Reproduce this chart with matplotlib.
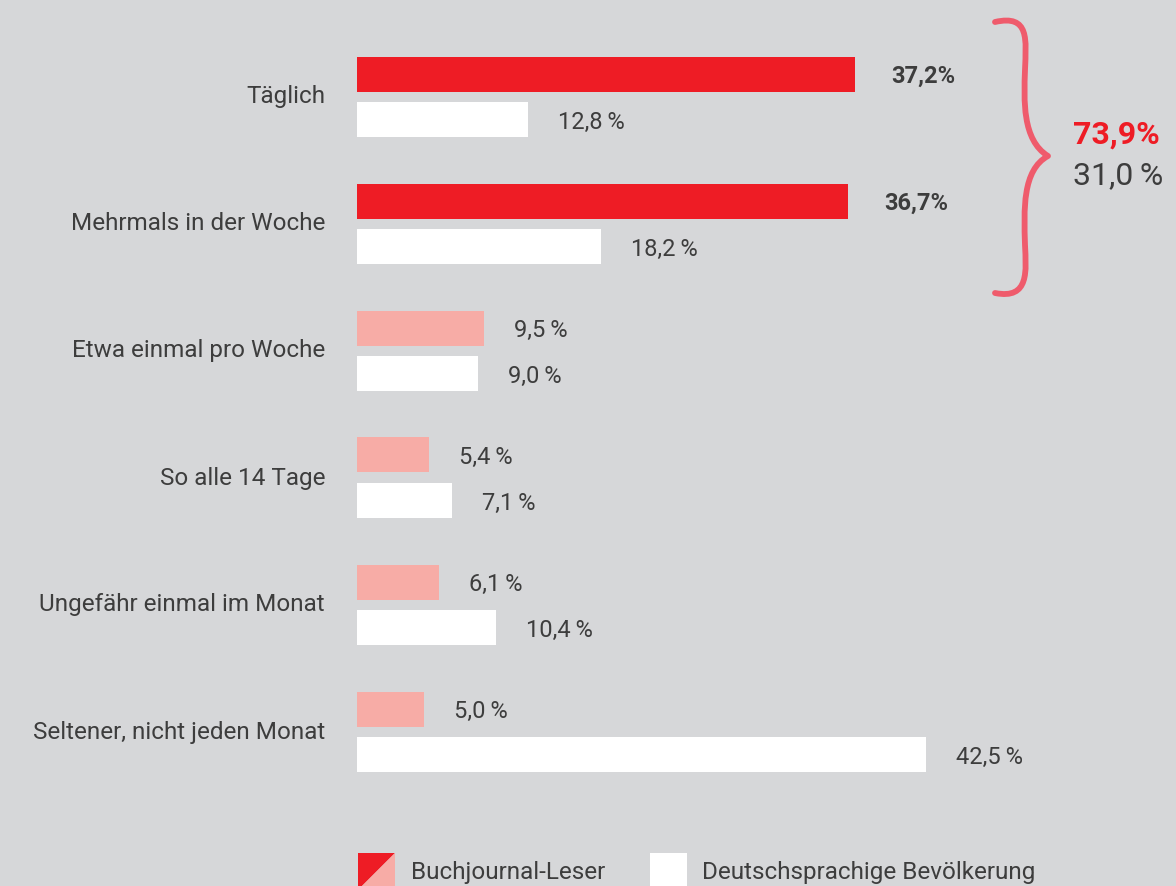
import numpy as np
import matplotlib
matplotlib.use("Agg")
import matplotlib.pyplot as plt
from matplotlib.patches import Polygon, Rectangle, PathPatch
from matplotlib.path import Path

plt.rcParams["font.family"] = ["Roboto", "DejaVu Sans"]

# data
kategorien = ["Täglich", "Mehrmals in der Woche", "Etwa einmal pro Woche",
              "So alle 14 Tage", "Ungefähr einmal im Monat",
              "Seltener, nicht jeden Monat"]
leser = [37.2, 36.7, 9.5, 5.4, 6.1, 5.0]
bevoelkerung = [12.8, 18.2, 9.0, 7.1, 10.4, 42.5]
summe_leser = 73.9
summe_bev = 31.0
legende = ["Buchjournal-Leser", "Deutschsprachige Bevölkerung"]

BG = "#d6d7d9"
RED = "#ee1c25"
PINK = "#f7aca6"
TXT = "#3d3d3d"
BRACE = "#ef5b6c"

W, H = 1176, 886
fig = plt.figure(figsize=(W / 100, H / 100), dpi=100, facecolor=BG)

# scale: x=0 at px 357, 13.39 px per percent; groups 127 px apart, first at px 96
PX_X = 13.39
X0 = 357
PX_G = 127
G0 = 96
ax = fig.add_axes([0, 0, 1, 1])
ax.set_facecolor(BG)
ax.set_xlim(-X0 / PX_X, (W - X0) / PX_X)
ax.set_ylim((H - G0) / PX_G, -G0 / PX_G)
ax.axis("off")

y = np.arange(len(kategorien))
bh = 35 / PX_G
off_r = -22 / PX_G
off_w = 23.5 / PX_G
farben = [RED if i < 2 else PINK for i in range(len(leser))]

ax.barh(y + off_r, leser, height=bh, color=farben, edgecolor="none")
ax.barh(y + off_w, bevoelkerung, height=bh, color="white", edgecolor="none")


def fmt(v, space=True):
    return f"{v:.1f}".replace(".", ",") + ("\u2009%" if space else "%")


gap = 30 / PX_X
dy = 2.5 / PX_G  # labels sit a touch below bar centre
for i, (a, b) in enumerate(zip(leser, bevoelkerung)):
    bold = i < 2
    ax.text(a + (36 / PX_X if bold else gap), y[i] + off_r + dy, fmt(a, not bold),
            va="center", ha="left", fontsize=17, color=TXT,
            fontweight="bold" if bold else "normal")
    ax.text(b + gap, y[i] + off_w + dy, fmt(b), va="center", ha="left",
            fontsize=17, color=TXT)
    ax.text(-32 / PX_X, y[i] + 1 / PX_G, kategorien[i], va="center", ha="right",
            fontsize=17.5, color=TXT)

# decorations in pixel coordinates
deco = fig.add_axes([0, 0, 1, 1], facecolor="none")
deco.set_xlim(0, W)
deco.set_ylim(H, 0)
deco.axis("off")

# hand-drawn curly brace
verts = [(995, 22), (1030, 14), (1026, 40), (1025, 70),
         (1024, 100), (1022, 140), (1048, 156),
         (1022, 170), (1024, 210), (1025, 245),
         (1026, 270), (1030, 300), (995, 293)]
codes = [Path.MOVETO] + [Path.CURVE4] * 12
deco.add_patch(PathPatch(Path(verts, codes), fill=False, edgecolor=BRACE,
                         lw=4.2, capstyle="round", joinstyle="round"))
deco.text(1073, 135, fmt(summe_leser, False), color=RED, fontsize=23,
          fontweight="bold", va="center", ha="left")
deco.text(1073, 176, fmt(summe_bev), color=TXT, fontsize=23,
          va="center", ha="left")

# legend
deco.add_patch(Polygon([(358, 853), (395, 853), (358, 890)], closed=True,
                       facecolor=RED, edgecolor="none"))
deco.add_patch(Polygon([(395, 853), (395, 890), (358, 890)], closed=True,
                       facecolor=PINK, edgecolor="none"))
deco.add_patch(Rectangle((650, 853), 37, 37, facecolor="white", edgecolor="none"))
deco.text(411, 872, legende[0], fontsize=17.5, color=TXT, va="center", ha="left")
deco.text(702, 872, legende[1], fontsize=17.5, color=TXT, va="center", ha="left")

fig.savefig("out.png", dpi=100, facecolor=BG)
